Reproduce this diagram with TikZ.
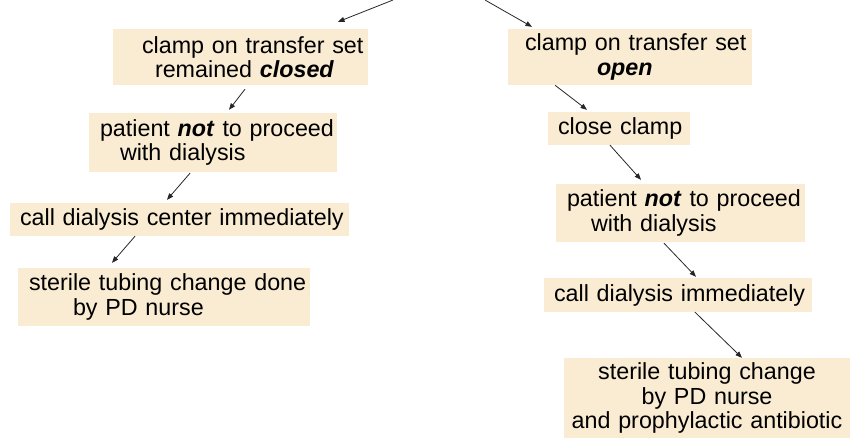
\documentclass[tikz,border=0pt]{standalone}
\usepackage{fontspec}
\setmainfont{Liberation Sans}
\usetikzlibrary{arrows.meta}
\definecolor{parchment}{RGB}{250,236,210}
\newcommand{\emphw}[1]{\textbf{\textit{#1}}}
\begin{document}
\begin{tikzpicture}[
	x=1pt, y=-1pt,
	b/.style = {rectangle, fill=parchment, inner xsep=0pt, inner ysep=0pt, align=left,
		font=\fontsize{23.3}{24.5}\selectfont},
	r/.style = {-{Triangle[length=6.5pt, width=5pt]}, line width=0.8pt, draw=black!85}
	]
	\useasboundingbox (0,0) rectangle (850,437);
	
	% ===== ===== ===== ===== =====
	
	% Nodes
	\coordinate	(in1)	at	(393, 0);
	\coordinate	(in2)	at	(485, 0);
	
	\node[b, text width=255pt, minimum height=56pt]	(b1)	at	(240.5, 57)
		{\hspace*{29pt}clamp on transfer set\\\hspace*{42pt}remained \emphw{closed}};
	\node[b, text width=244pt, minimum height=56pt]	(b2)	at	(630, 57)
		{\hspace*{17pt}clamp on transfer set\\\hspace*{89pt}\emphw{open}};
	
	% Lines
	\draw[r]	(in1)	to	([xshift=97.5pt, yshift=7pt]b1.north);
	\draw[r]	(in2)	to	([xshift=-98pt, yshift=2pt]b2.north);
	
	% ===== ===== ===== ===== =====
	
	% Nodes
	\node[b, text width=248pt, minimum height=59pt]	(l1)	at	(213, 142.5)
		{\hspace*{11pt}patient \emphw{not} to proceed\\\hspace*{31pt}with dialysis};
	\node[b, text width=339pt, minimum height=33pt]	(l2)	at	(179.5, 219.5)
		{\hspace*{10pt}call dialysis center immediately};
	\node[b, text width=292pt, minimum height=58pt]	(l3)	at	(164, 297)
		{\hspace*{11pt}sterile tubing change done\\\hspace*{55pt}by PD nurse};
	
	% Lines
	\draw[r]	([xshift=4.5pt, yshift=-4pt]b1.south)	to	([xshift=16pt, yshift=3pt]l1.north);
	\draw[r]	([xshift=-23pt, yshift=-1pt]l1.south)	to	([xshift=-12.5pt, yshift=3pt]l2.north);
	\draw[r]	([xshift=-44.5pt]l2.south)	to	([xshift=-52pt, yshift=5pt]l3.north);
	
	% ===== ===== ===== ===== =====
	
	% Nodes
	\node[b, text width=142pt, minimum height=33pt]	(r1)	at	(619, 128.5)
		{\hspace*{10pt}close clamp};
	\node[b, text width=249pt, minimum height=58pt]	(r2)	at	(680.5, 213)
		{\hspace*{11pt}patient \emphw{not} to proceed\\\hspace*{35pt}with dialysis};
	\node[b, text width=268pt, minimum height=34pt]	(r3)	at	(678, 295)
		{\hspace*{10pt}call dialysis immediately};
	\node[b, text width=286pt, minimum height=80pt, align=center]	(r4)	at	(707, 398)
		{sterile tubing change\\by PD nurse\\and prophylactic antibiotic};
	
	% Lines
	\draw[r]	([xshift=-75pt]b2.south)	to	([xshift=-32pt, yshift=2pt]r1.north);
	\draw[r]	([xshift=-9pt]r1.south)	to	([xshift=-39.5pt, yshift=4pt]r2.north);
	\draw[r]	([xshift=-16.5pt, yshift=-1pt]r2.south)	to	([xshift=18pt, yshift=1pt]r3.north);
	\draw[r]	([xshift=17pt]r3.south)	to	([xshift=35pt]r4.north);
	
\end{tikzpicture}
\end{document}
